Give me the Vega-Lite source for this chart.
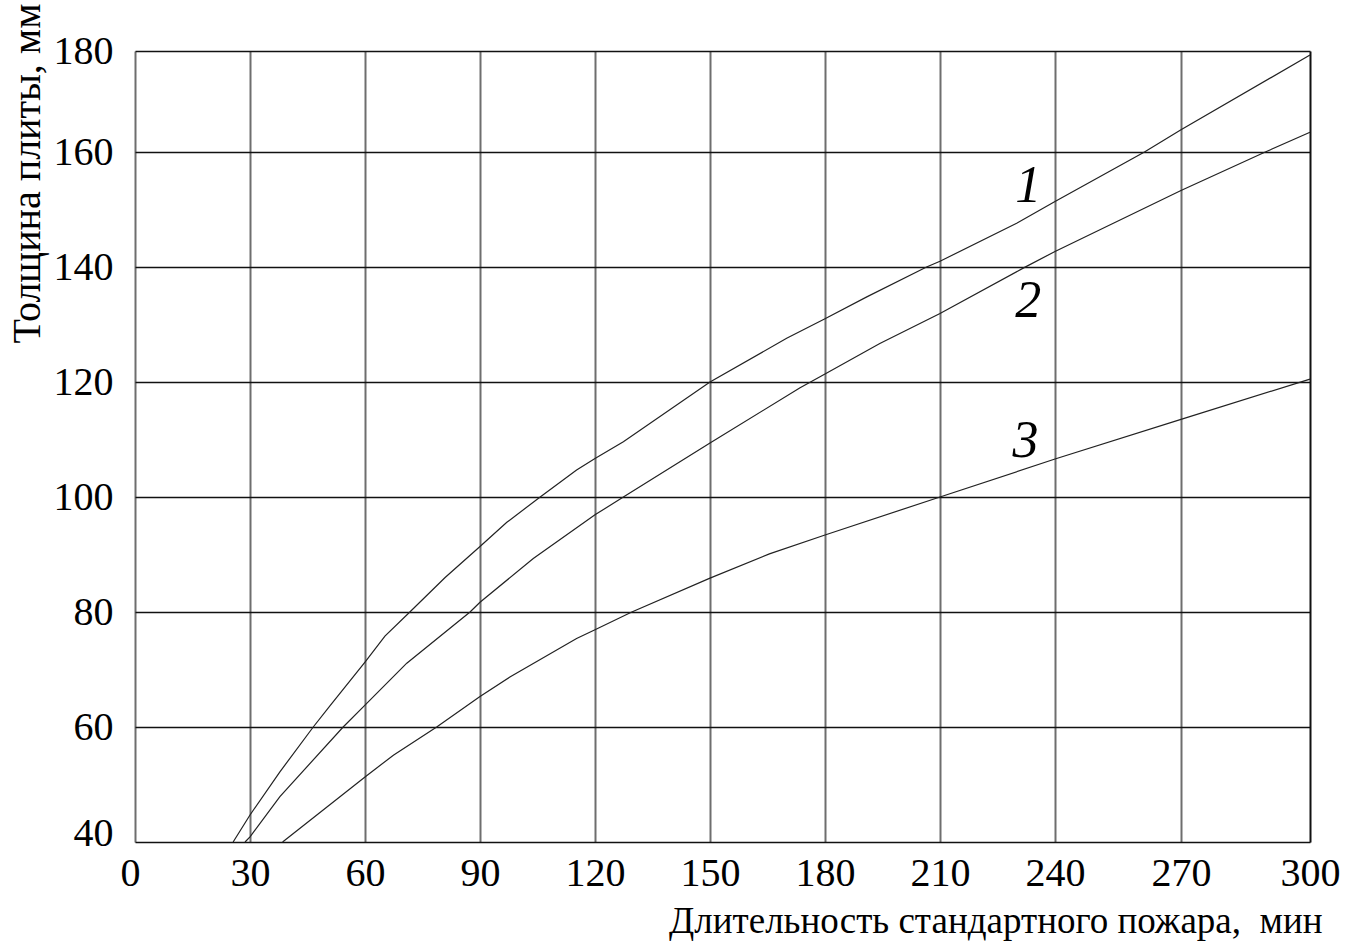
{
  "$schema": "https://vega.github.io/schema/vega-lite/v6.json",
  "width": 1175,
  "height": 791,
  "autosize": "none",
  "padding": {"left": 135, "top": 51, "right": 41, "bottom": 104},
  "background": "white",
  "config": {
    "view": {"stroke": null},
    "font": "Liberation Serif"
  },
  "datasets": {
    "curves": [
      {"series": "1", "t": 25.6, "h": 40}, {"series": "1", "t": 30, "h": 44.7}, {"series": "1", "t": 37.8, "h": 52.2},
      {"series": "1", "t": 46.5, "h": 60}, {"series": "1", "t": 50.9, "h": 63.7}, {"series": "1", "t": 60, "h": 71.3},
      {"series": "1", "t": 65.2, "h": 75.8}, {"series": "1", "t": 71.7, "h": 80}, {"series": "1", "t": 80.9, "h": 86},
      {"series": "1", "t": 90, "h": 91.4}, {"series": "1", "t": 97, "h": 95.6}, {"series": "1", "t": 105.7, "h": 100},
      {"series": "1", "t": 115.2, "h": 104.7}, {"series": "1", "t": 120, "h": 106.7}, {"series": "1", "t": 127.4, "h": 109.6},
      {"series": "1", "t": 150, "h": 120}, {"series": "1", "t": 170, "h": 127.6}, {"series": "1", "t": 180, "h": 131},
      {"series": "1", "t": 190.9, "h": 134.8}, {"series": "1", "t": 206.5, "h": 140}, {"series": "1", "t": 210, "h": 141},
      {"series": "1", "t": 230, "h": 147.6}, {"series": "1", "t": 240, "h": 151.4}, {"series": "1", "t": 261.3, "h": 160},
      {"series": "1", "t": 270, "h": 164.4}, {"series": "1", "t": 300, "h": 179.2},
      {"series": "2", "t": 28.7, "h": 40}, {"series": "2", "t": 30, "h": 40.9}, {"series": "2", "t": 37.8, "h": 47.9},
      {"series": "2", "t": 54.3, "h": 60}, {"series": "2", "t": 60, "h": 63.8}, {"series": "2", "t": 70.9, "h": 71.1},
      {"series": "2", "t": 87.4, "h": 80}, {"series": "2", "t": 90, "h": 81.7}, {"series": "2", "t": 103.9, "h": 89.3},
      {"series": "2", "t": 120, "h": 96.9}, {"series": "2", "t": 127.4, "h": 100}, {"series": "2", "t": 150, "h": 109.4},
      {"series": "2", "t": 173.5, "h": 119}, {"series": "2", "t": 180, "h": 121.4}, {"series": "2", "t": 194.3, "h": 126.7},
      {"series": "2", "t": 210, "h": 131.9}, {"series": "2", "t": 231.7, "h": 139.8}, {"series": "2", "t": 240, "h": 142.7},
      {"series": "2", "t": 270, "h": 153.3}, {"series": "2", "t": 289.6, "h": 160}, {"series": "2", "t": 300, "h": 163.9},
      {"series": "3", "t": 38.5, "h": 40}, {"series": "3", "t": 60, "h": 51.3}, {"series": "3", "t": 67.4, "h": 55.1},
      {"series": "3", "t": 78.7, "h": 60}, {"series": "3", "t": 90, "h": 65.3}, {"series": "3", "t": 97.8, "h": 68.7},
      {"series": "3", "t": 115.2, "h": 75.4}, {"series": "3", "t": 120, "h": 76.9}, {"series": "3", "t": 129.6, "h": 80},
      {"series": "3", "t": 150, "h": 85.9}, {"series": "3", "t": 165.5, "h": 90.1}, {"series": "3", "t": 180, "h": 93.4},
      {"series": "3", "t": 210, "h": 100}, {"series": "3", "t": 240, "h": 106.6}, {"series": "3", "t": 270, "h": 113.5},
      {"series": "3", "t": 300, "h": 120.5}
    ],
    "labels": [
      {"series": "1", "t": 233, "h": 151.3},
      {"series": "2", "t": 233, "h": 131.3},
      {"series": "3", "t": 232.3, "h": 107}
    ]
  },
  "layer": [
    {
      "data": {"name": "curves"},
      "mark": {"type": "line", "strokeWidth": 1.2, "color": "#222"},
      "encoding": {
        "x": {
          "field": "t", "type": "quantitative",
          "scale": {"domain": [0, 240, 270, 300], "range": [0, 920, 1046, 1175], "nice": false, "zero": false},
          "axis": {
            "values": [0, 30, 60, 90, 120, 150, 180, 210, 240, 270, 300],
            "title": "Длительность стандартного пожара,\u00a0 мин",
            "titleFont": "Liberation Serif", "titleFontSize": 37, "titleFontWeight": "normal", "titleColor": "black",
            "titleAlign": "right", "titleAnchor": null, "titleX": 1187, "titleY": 90, "titleBaseline": "alphabetic",
            "labelFont": "Liberation Serif", "labelFontSize": 40, "labelColor": "black",
            "labelBaseline": "alphabetic", "labelPadding": 43, "labelFlush": false, "labelOverlap": false,
            "labelOffset": {"condition": {"test": "datum.value === 0", "value": -5}, "value": 0},
            "ticks": false, "tickSize": 0, "domain": false,
            "grid": true, "gridWidth": 2,
            "gridColor": {"condition": {"test": "datum.value === 300", "value": "#111"}, "value": "#6e6e6e"}
          }
        },
        "y": {
          "field": "h", "type": "quantitative",
          "scale": {"domain": [40, 160, 180], "range": [791, 101, 0], "nice": false, "zero": false},
          "axis": {
            "values": [40, 60, 80, 100, 120, 140, 160, 180],
            "title": "Толщина плиты, мм",
            "titleFont": "Liberation Serif", "titleFontSize": 40, "titleFontWeight": "normal", "titleColor": "black",
            "titleAngle": -90, "titleAlign": "left", "titleAnchor": null, "titleX": -96, "titleY": 292, "titleBaseline": "alphabetic",
            "labelFont": "Liberation Serif", "labelFontSize": 40, "labelColor": "black",
            "labelPadding": 22, "labelFlush": false, "labelOverlap": false, "labelBaseline": "middle",
            "labelOffset": {"condition": {"test": "datum.value === 40", "value": -9}, "value": 0},
            "ticks": false, "tickSize": 0, "domain": false,
            "grid": true, "gridWidth": 1.5, "gridColor": "#111"
          }
        },
        "detail": {"field": "series", "type": "nominal"}
      }
    },
    {
      "data": {"name": "labels"},
      "mark": {"type": "text", "font": "Liberation Serif", "fontStyle": "italic", "fontSize": 52, "baseline": "alphabetic", "align": "center", "color": "black"},
      "encoding": {
        "x": {"field": "t", "type": "quantitative"},
        "y": {"field": "h", "type": "quantitative"},
        "text": {"field": "series", "type": "nominal"}
      }
    }
  ]
}
